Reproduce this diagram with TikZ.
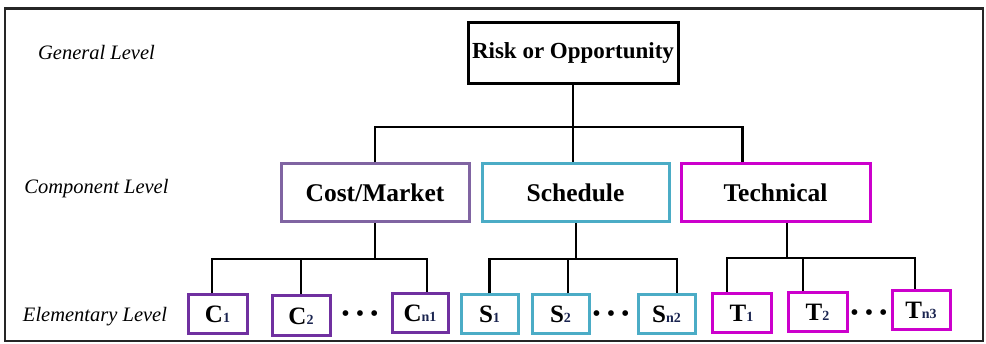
\documentclass[tikz,border=0pt]{standalone}
\usepackage{fontspec}
\setmainfont{Liberation Serif}

\definecolor{costpurple}{HTML}{8064A2}
\definecolor{elempurple}{HTML}{7030A0}
\definecolor{schedcyan}{HTML}{4BACC6}
\definecolor{techmagenta}{HTML}{CC00CC}
\definecolor{subink}{HTML}{1A2450}

% small index set on the baseline after a bold letter
\newcommand\elsub[1]{{\fontsize{14}{14}\selectfont\color{subink}#1}}

\begin{document}
\begin{tikzpicture}[x=1pt,y=-1pt,
  conn/.style={line width=2.8pt, black},
  levellabel/.style={font=\fontsize{20.5}{22}\selectfont\itshape, inner sep=0pt},
  riskbox/.style={draw, line width=3pt, minimum width=210pt, minimum height=61pt,
    inner sep=0pt, font=\fontsize{23}{25}\selectfont\bfseries},
  compbox/.style={draw, line width=3pt, minimum width=188pt, minimum height=58pt,
    inner sep=0pt, font=\fontsize{25.5}{27}\selectfont\bfseries},
  elembox/.style={draw, line width=3pt, minimum width=58pt, minimum height=39pt,
    inner sep=0pt, font=\fontsize{25}{26}\selectfont\bfseries},
  dots/.style={inner sep=0pt, font=\fontsize{24}{26}\selectfont}
]
\useasboundingbox (0,0) rectangle (986,344);

% outer frame
\draw[line width=2pt, black!85] (5,9) rectangle (983,341);
\draw[line width=3pt, black!85] (4,8.5) -- (984,8.5);

% level labels
\node[levellabel] (lgen)  at (96.5,52)  {General Level};
\node[levellabel] (lcomp) at (96.5,189) {Component Level};
\node[levellabel] (lelem) at (95,317)   {Elementary Level};

% general level
\node[riskbox] (risk) at (573,53.5) {Risk or Opportunity};

% component level
\node[compbox, draw=costpurple]  (cm)    at (375,193)   {Cost/Market};
\node[compbox, draw=schedcyan, minimum width=187pt]   (sched) at (575.5,193) {Schedule};
\node[compbox, draw=techmagenta, minimum width=189pt] (tech)  at (775.5,193) {Technical};

% elementary level
\node[elembox, draw=elempurple, minimum width=59pt] (c1) at (217.5,314.5) {C\elsub{1}};
\node[elembox, draw=elempurple, minimum height=40pt] (c2) at (301,316) {C\elsub{2}};
\node[dots] (cdots) at (360,316) {• • •};
\node[elembox, draw=elempurple, minimum width=56pt] (cn) at (420,313.5) {C\elsub{n1}};

\node[elembox, draw=schedcyan, minimum width=57pt] (s1) at (489.5,314.5) {S\elsub{1}};
\node[elembox, draw=schedcyan, minimum width=57pt] (s2) at (560.5,314.5) {S\elsub{2}};
\node[dots] (sdots) at (611,316) {• • •};
\node[elembox, draw=schedcyan, minimum width=57pt] (sn) at (666.5,314.5) {S\elsub{n2}};

\node[elembox, draw=techmagenta, minimum width=59pt] (t1) at (741.5,313) {T\elsub{1}};
\node[elembox, draw=techmagenta, minimum width=59pt] (t2) at (817.5,312.5) {T\elsub{2}};
\node[dots] (tdots) at (869,315) {• • •};
\node[elembox, draw=techmagenta] (tn) at (921,310.5) {T\elsub{n3}};

% junctions
\coordinate (jr) at (573,127);
\coordinate (jc) at (375,259);
\coordinate (js) at (576,259);
\coordinate (jt) at (787,258);

% general -> component
\draw[conn] (risk.south) -- (jr);
\draw[conn] (cm.north) |- (jr) -| ([xshift=63pt]tech.north west);
\draw[conn] (jr) -- (sched.north -| jr);

% cost/market -> elements
\draw[conn] (cm.south) -- (jc);
\draw[conn] ([xshift=-5.5pt]c1.north) |- (jc) -| ([xshift=7pt]cn.north);
\draw[conn] (c2.north) -- (c2.north |- jc);

% schedule -> elements
\draw[conn] (sched.south -| js) -- (js);
\draw[conn] (s1.north) |- (js) -| ([xshift=10.5pt]sn.north);
\draw[conn] ([xshift=7.5pt]s2.north) -- ([xshift=7.5pt]s2.north |- js);

% technical -> elements
\draw[conn] (tech.south -| jt) -- (jt);
\draw[conn] ([xshift=-14.5pt]t1.north) |- (jt) -| ([xshift=-6pt]tn.north);
\draw[conn] ([xshift=-14.5pt]t2.north) -- ([xshift=-14.5pt]t2.north |- jt);
\end{tikzpicture}
\end{document}
